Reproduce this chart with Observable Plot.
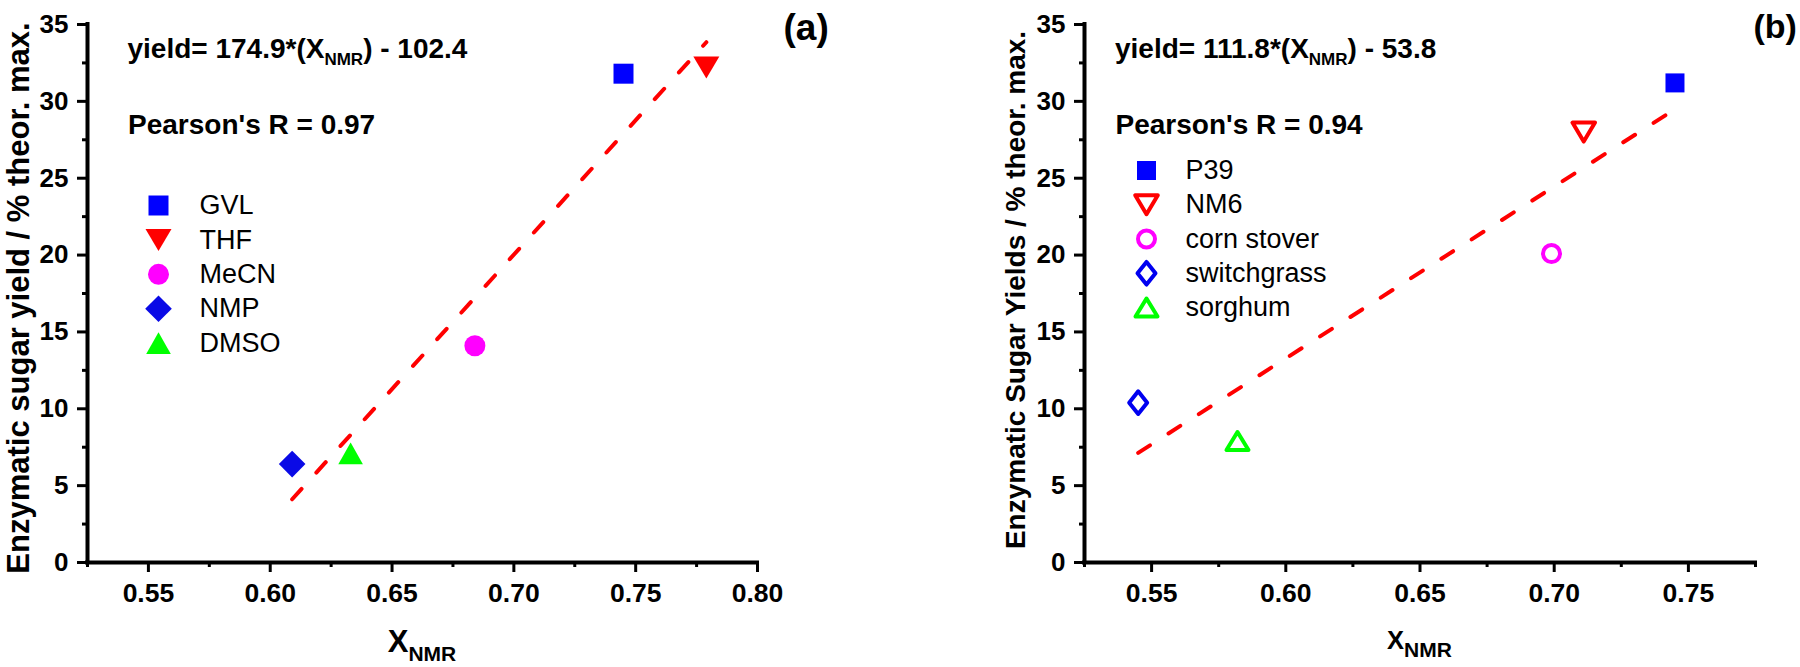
<!DOCTYPE html>
<html>
<head>
<meta charset="utf-8">
<script src="https://cdn.jsdelivr.net/npm/d3@7"></script>
<script src="https://cdn.jsdelivr.net/npm/@observablehq/plot@0.6"></script>
<style>
  html, body { margin: 0; padding: 0; background: #fff; }
  #wrap { display: flex; width: 1800px; height: 667px; overflow: hidden; }
</style>
</head>
<body>
<div id="wrap"></div>
<script>
// ---------------- data: panel (a) ----------------
const solvents = ["GVL", "THF", "MeCN", "NMP", "DMSO"];
const xNmrA = [0.745, 0.779, 0.684, 0.609, 0.633];
const yieldA = [31.8, 32.2, 14.1, 6.4, 7.1];
const slopeA = 174.9, interceptA = -102.4, pearsonA = 0.97;
const xTicksA = [0.55, 0.60, 0.65, 0.70, 0.75, 0.80];
const xMinorA = [0.525, 0.575, 0.625, 0.675, 0.725, 0.775];

// ---------------- data: panel (b) ----------------
const biomass = ["P39", "NM6", "corn stover", "switchgrass", "sorghum"];
const xNmrB = [0.745, 0.711, 0.699, 0.545, 0.582];
const yieldB = [31.2, 28.0, 20.1, 10.4, 7.9];
const slopeB = 111.8, interceptB = -53.8, pearsonB = 0.94;
const xTicksB = [0.55, 0.60, 0.65, 0.70, 0.75];
const xMinorB = [0.525, 0.575, 0.625, 0.675, 0.725, 0.775];

// ---------------- shared y ticks ----------------
const yTicks = [0, 5, 10, 15, 20, 25, 30, 35];
const yMinor = [2.5, 7.5, 12.5, 17.5, 22.5, 27.5, 32.5];

// ---------------- styles ----------------
const FONT = "'Liberation Sans', Arial, Helvetica, sans-serif";
function polySymbol(pts) {
  return { draw(ctx) { ctx.moveTo(pts[0][0], pts[0][1]); for (let i = 1; i < pts.length; i++) ctx.lineTo(pts[i][0], pts[i][1]); ctx.closePath(); } };
}
function circleSymbol(r) {
  return { draw(ctx) { ctx.moveTo(r, 0); ctx.arc(0, 0, r, 0, 2 * Math.PI); ctx.closePath(); } };
}
const colorsA = ["#0000FF", "#FF0000", "#FF00FF", "#0A0AE6", "#00FF00"];
const symbolsA = [
  polySymbol([[-10, -10], [10, -10], [10, 10], [-10, 10]]),
  polySymbol([[-13, -11], [13, -11], [0, 11]]),
  circleSymbol(10.5),
  polySymbol([[0, -13.3], [13.3, 0], [0, 13.3], [-13.3, 0]]),
  polySymbol([[-12.3, 10.9], [12.3, 10.9], [0, -10.9]])
];
const filledA = [true, true, true, true, true];

const colorsB = ["#0000FF", "#FF0000", "#FF00FF", "#0000F0", "#00FF00"];
const symbolsB = [
  polySymbol([[-9.5, -9.5], [9.5, -9.5], [9.5, 9.5], [-9.5, 9.5]]),
  polySymbol([[-11.3, -9.5], [11.3, -9.5], [0, 9.5]]),
  circleSymbol(8.5),
  polySymbol([[0, -11.3], [9, 0], [0, 11.3], [-9, 0]]),
  polySymbol([[-11, 9], [11, 9], [0, -9]])
];
const filledB = [true, false, false, false, false];

function panel(cfg) {
  const pts = cfg.names.map((name, i) => ({ name, x: cfg.xs[i], y: cfg.ys[i] }));
  const fit = d3.extent(cfg.xs).map(x => ({ x, y: cfg.slope * x + cfg.intercept }));
  const dotStyle = i => cfg.filled[i]
    ? { fill: cfg.colors[i], stroke: "none" }
    : { fill: "white", stroke: cfg.colors[i], strokeWidth: 4, strokeLinejoin: "round" };

  const svg = Plot.plot({
    width: 900, height: 667,
    marginLeft: cfg.ml, marginRight: 900 - cfg.ml - cfg.pw, marginTop: 24, marginBottom: 105,
    style: { fontFamily: FONT, background: "white", overflow: "visible", color: "black" },
    x: { domain: cfg.xDomain },
    y: { domain: [0, 35] },
    marks: [
      Plot.axisX(cfg.xTicks, { tickSize: 10, tickPadding: 11, strokeWidth: 3, fontSize: 26.5, fontWeight: "bold", tickFormat: d3.format(".2f"), label: null }),
      Plot.axisX(cfg.xMinor, { tickSize: 5, strokeWidth: 3, fill: "none", label: null }),
      Plot.axisY(yTicks, { tickSize: 10, tickPadding: 9, strokeWidth: 3, fontSize: 26, fontWeight: "bold", label: null }),
      Plot.axisY(yMinor, { tickSize: 5, strokeWidth: 3, fill: "none", label: null }),
      Plot.ruleY([0], { strokeWidth: 4, strokeLinecap: "square" }),
      Plot.ruleX([cfg.xDomain[0]], { strokeWidth: 4, strokeLinecap: "square" }),
      Plot.line(fit, { x: "x", y: "y", stroke: "#FF0000", strokeWidth: 4, strokeDasharray: "14,22" }),
      ...pts.map((p, i) => Plot.dot([p], { x: "x", y: "y", r: 10, symbol: cfg.symbols[i], ...dotStyle(i) })),
      ...cfg.names.map((name, i) => Plot.dot([name], { frameAnchor: "top-left", dx: cfg.legDotDx, dy: cfg.legDy + i * cfg.legStep, r: 10, symbol: cfg.symbols[i], ...dotStyle(i) })),
      ...cfg.names.map((name, i) => Plot.text([name], { text: d => d, frameAnchor: "top-left", dx: cfg.legTextDx, dy: cfg.legDy + i * cfg.legStep, textAnchor: "start", lineAnchor: "middle", fontSize: 27, fill: "black" })),
      Plot.text([`Pearson's R = ${cfg.pearson.toFixed(2)}`], { text: d => d, frameAnchor: "top-left", dx: cfg.annDx, dy: 90, textAnchor: "start", lineAnchor: "top", fontSize: 28, fontWeight: "bold", fill: "black" }),
      Plot.text([cfg.tag], { text: d => d, frameAnchor: "top-right", dx: cfg.tagDx, dy: -11, textAnchor: "start", lineAnchor: "top", fontSize: cfg.tagSize, fontWeight: "bold", fill: "black" })
    ]
  });

  const s = d3.select(svg);
  // regression equation with subscript
  const eq = s.append("text")
    .attr("x", cfg.ml + cfg.annDx).attr("y", 58)
    .attr("text-anchor", "start")
    .attr("font-family", FONT).attr("font-weight", "bold").attr("font-size", 28).attr("fill", "black");
  eq.append("tspan").text(`yield= ${cfg.slope.toFixed(1)}*(X`);
  eq.append("tspan").attr("font-size", 17).attr("dy", 7).text("NMR");
  eq.append("tspan").attr("dy", -7).text(`) - ${Math.abs(cfg.intercept).toFixed(1)}`);

  // x axis title
  const xt = s.append("text")
    .attr("x", cfg.ml + cfg.pw / 2).attr("y", cfg.xTitleY)
    .attr("text-anchor", "middle")
    .attr("font-family", FONT).attr("font-weight", "bold").attr("fill", "black");
  xt.append("tspan").attr("font-size", cfg.xTitleSize).text("X");
  xt.append("tspan").attr("font-size", 21).attr("dy", cfg.subDy).text("NMR");

  // y axis title
  s.append("text")
    .attr("transform", `translate(${cfg.yTitleX},${cfg.yTitleY}) rotate(-90)`)
    .attr("text-anchor", "middle")
    .attr("font-family", FONT).attr("font-weight", "bold").attr("font-size", cfg.yTitleSize).attr("fill", "black")
    .text(cfg.yTitle);
  return svg;
}

const wrap = document.getElementById("wrap");
wrap.appendChild(panel({
  names: solvents, xs: xNmrA, ys: yieldA, slope: slopeA, intercept: interceptA, pearson: pearsonA,
  xTicks: xTicksA, xMinor: xMinorA, xDomain: [0.525, 0.80],
  colors: colorsA, symbols: symbolsA, filled: filledA,
  ml: 87, pw: 670,
  legDotDx: 71, legTextDx: 112, legDy: 181, legStep: 34.4,
  annDx: 40.5, tag: "(a)", tagDx: 26, tagSize: 37,
  xTitleY: 652, xTitleSize: 31, subDy: 9,
  yTitle: "Enzymatic sugar yield / % theor. max.", yTitleX: 29, yTitleY: 298, yTitleSize: 31
}));
wrap.appendChild(panel({
  names: biomass, xs: xNmrB, ys: yieldB, slope: slopeB, intercept: interceptB, pearson: pearsonB,
  xTicks: xTicksB, xMinor: xMinorB, xDomain: [0.525, 0.775],
  colors: colorsB, symbols: symbolsB, filled: filledB,
  ml: 184, pw: 671,
  legDotDx: 62, legTextDx: 101, legDy: 146, legStep: 34.25,
  annDx: 31, tag: "(b)", tagDx: -2, tagSize: 34,
  xTitleY: 649, xTitleSize: 25.5, subDy: 8,
  yTitle: "Enzymatic Sugar Yields / % theor. max.", yTitleX: 124.5, yTitleY: 290, yTitleSize: 28
}));
</script>
</body>
</html>
